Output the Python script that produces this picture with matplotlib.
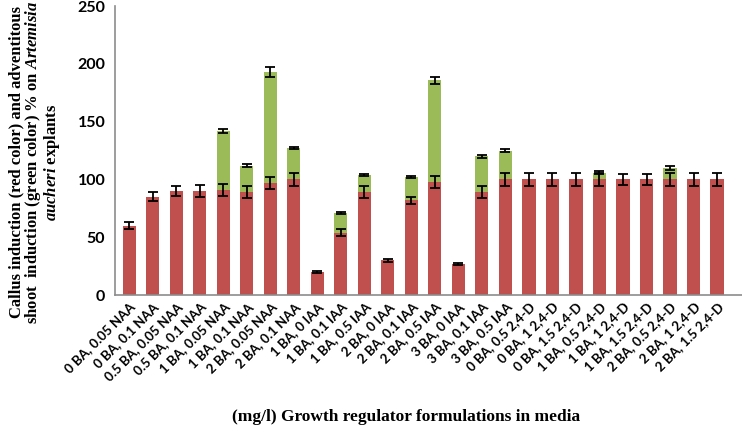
import numpy as np
import matplotlib
matplotlib.use("Agg")
import matplotlib.pyplot as plt

# formulaciones (mg/l) y porcentajes
labels = ["0 BA, 0.05 NAA", "0 BA, 0.1 NAA", "0.5 BA, 0.05 NAA", "0.5 BA, 0.1 NAA",
          "1 BA, 0.05 NAA", "1 BA, 0.1 NAA", "2 BA, 0.05 NAA", "2 BA, 0.1 NAA",
          "1 BA, 0 IAA", "1 BA, 0.1 IAA", "1 BA, 0.5 IAA", "2 BA, 0 IAA",
          "2 BA, 0.1 IAA", "2 BA, 0.5 IAA", "3 BA, 0 IAA", "3 BA, 0.1 IAA",
          "3 BA, 0.5 IAA", "0 BA, 0.5 2,4-D", "0 BA, 1 2,4-D", "0 BA, 1.5 2,4-D",
          "1 BA, 0.5 2,4-D", "1 BA, 1 2,4-D", "1 BA, 1.5 2,4-D", "2 BA, 0.5 2,4-D",
          "2 BA, 1 2,4-D", "2 BA, 1.5 2,4-D"]

callus = [60, 85, 90, 90, 91, 89, 97, 100, 20, 54, 89, 30, 82, 98, 27, 89,
          100, 100, 100, 100, 100, 100, 100, 100, 100, 100]
callus_err = [3, 4, 4, 5, 5, 5, 5, 6, 1, 3, 5, 1.5, 3, 5, 1, 5,
              6, 6, 6, 6, 6, 5, 5, 6, 6, 6]

shoot = [0, 0, 0, 0, 51, 23, 96, 27, 0, 17, 15, 0, 20, 88, 0, 31,
         25, 0, 0, 0, 6, 0, 0, 10, 0, 0]
shoot_err = [0, 0, 0, 0, 2, 1, 4, 1, 0, 1, 1, 0, 1, 3, 0, 1.5,
             1.5, 0, 0, 0, 1.5, 0, 0, 1.5, 0, 0]

red = "#C0504D"
green = "#9BBB59"

plt.rcParams["mathtext.fontset"] = "custom"
plt.rcParams["mathtext.it"] = "Liberation Serif:italic:bold"
plt.rcParams["mathtext.rm"] = "Liberation Serif:bold"

fig = plt.figure(figsize=(7.42, 4.32), dpi=100)
ax = fig.add_axes([0.155, 0.317, 0.845, 0.669])

x = np.arange(len(labels))
callus = np.array(callus, dtype=float)
shoot = np.array(shoot, dtype=float)
total = callus + shoot

ax.bar(x, callus, width=0.56, color=red)
ax.bar(x, shoot, width=0.56, bottom=callus, color=green)

ax.errorbar(x, callus, yerr=callus_err, fmt="none", ecolor="black",
            elinewidth=1.3, capsize=3.5, capthick=1.3)
m = shoot > 0
ax.errorbar(x[m], total[m], yerr=np.array(shoot_err)[m], fmt="none", ecolor="black",
            elinewidth=1.3, capsize=3.5, capthick=1.3)

ax.set_ylim(0, 250)
ax.set_xlim(-0.6, 26.06)
ax.set_yticks([0, 50, 100, 150, 200, 250])
ax.set_yticklabels(["0", "50", "100", "150", "200", "250"],
                   fontfamily="Lato", fontweight="bold", fontsize=11.5)
ax.set_xticks(x)
ax.set_xticklabels(labels, rotation=45, ha="right", rotation_mode="anchor",
                   fontfamily="Lato", fontweight="bold", fontsize=9.5)
ax.tick_params(axis="both", length=0, pad=7)
ax.tick_params(axis="x", pad=4)

for s in ["top", "right"]:
    ax.spines[s].set_visible(False)
for s in ["left", "bottom"]:
    ax.spines[s].set_color("#8c8c8c")
    ax.spines[s].set_linewidth(1.2)

ax.set_ylabel("Callus induction (red color) and adventitous\n"
              "shoot  induction (green color) % on $\\mathit{Artemisia}$\n"
              "$\\mathit{aucheri}$ explants",
              fontfamily="Liberation Serif", fontweight="bold", fontsize=12,
              linespacing=0.92)
ax.yaxis.set_label_coords(-0.085, 0.46)

fig.text(0.547, 0.035, "(mg/l) Growth regulator formulations in media",
         ha="center", va="center", fontfamily="Liberation Serif",
         fontweight="bold", fontsize=12.5)

fig.savefig("out.png", dpi=100)
